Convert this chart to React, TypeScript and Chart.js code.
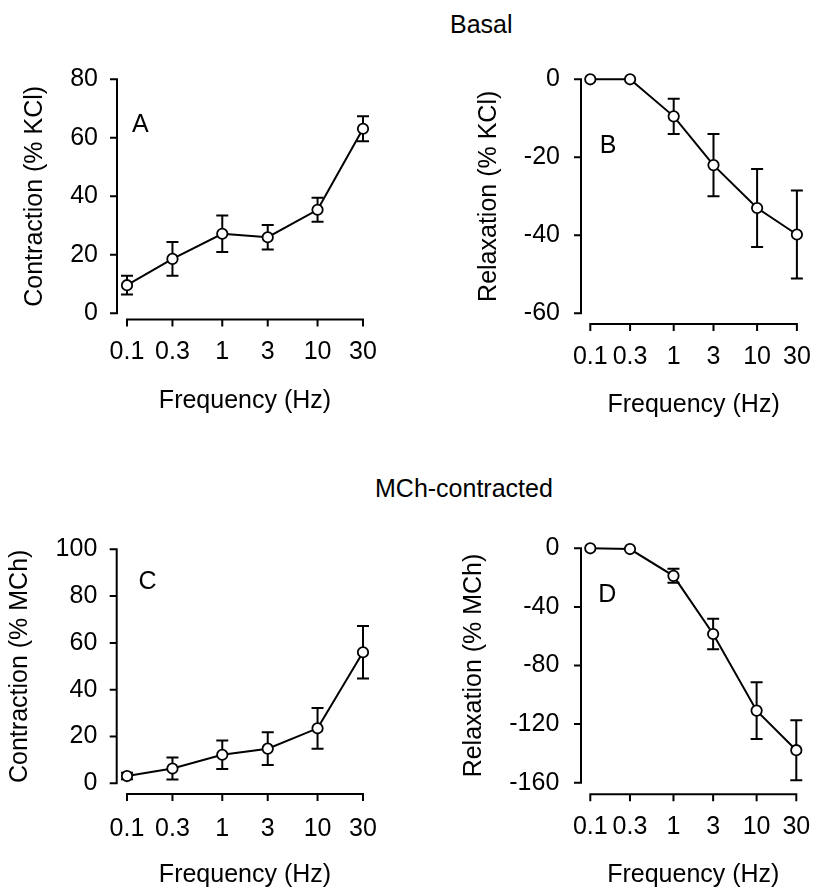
import React, { useEffect, useRef } from "react";
import { Chart, registerables } from "chart.js";

Chart.register(...registerables);

// ---------- data ----------
const FREQ_HZ = [0.1, 0.3, 1, 3, 10, 30];
const FREQ_LABELS = ["0.1", "0.3", "1", "3", "10", "30"];

const BASAL_CONTRACTION = [9.6, 18.6, 27.2, 26.0, 35.4, 63.1];
const BASAL_CONTRACTION_SEM = [3.2, 5.8, 6.2, 4.2, 4.1, 4.3];
const BASAL_RELAXATION = [0, 0, -9.5, -22.0, -33.0, -39.8];
const BASAL_RELAXATION_SEM = [0, 0, 4.5, 8.0, 10.0, 11.3];
const MCH_CONTRACTION = [3.1, 6.3, 12.2, 14.8, 23.5, 56.0];
const MCH_CONTRACTION_SEM = [1.4, 4.7, 6.1, 7.0, 8.7, 11.2];
const MCH_RELAXATION = [0, -0.5, -18.8, -58.5, -110.8, -137.8];
const MCH_RELAXATION_SEM = [0, 0, 4.8, 10.4, 19.4, 20.5];

const TICKS_A = [0, 20, 40, 60, 80];
const TICKS_B = [0, -20, -40, -60];
const TICKS_C = [0, 20, 40, 60, 80, 100];
const TICKS_D = [0, -40, -80, -120, -160];

const FONT_FAMILY = '"Liberation Sans", Arial, Helvetica, sans-serif';

// ---------- panel layout ----------
const PANELS = [
  {
    key: "A", letter: "A", letterDx: 5, letterDy: 52.4,
    means: BASAL_CONTRACTION, errs: BASAL_CONTRACTION_SEM, yTicks: TICKS_A,
    yMin: 0, yMax: 80, yTitle: "Contraction (% KCl)",
    left: 0, top: 30, w: 420, h: 390,
    padTop: 49.3, padRight: 57, yWidth: 127, xHeight: 106.7,
    yGap: 10, xGap: 6.3, xTickPad: 24.2, yTickPad: 29, yTitlePad: 20, xTitlePad: 4,
  },
  {
    key: "B", letter: "B", letterDx: 9.5, letterDy: 74,
    means: BASAL_RELAXATION, errs: BASAL_RELAXATION_SEM, yTicks: TICKS_B,
    yMin: -60, yMax: 0, yTitle: "Relaxation (% KCl)",
    left: 420, top: 30, w: 420, h: 390,
    padTop: 49.3, padRight: 16, yWidth: 170.3, xHeight: 106.7,
    yGap: 9.3, xGap: 10.7, xTickPad: 29.2, yTickPad: 30.3, yTitlePad: 54, xTitlePad: 0,
  },
  {
    key: "C", letter: "C", letterDx: 11.5, letterDy: 39.5,
    means: MCH_CONTRACTION, errs: MCH_CONTRACTION_SEM, yTicks: TICKS_C,
    yMin: 0, yMax: 100, yTitle: "Contraction (% MCh)",
    left: 0, top: 500, w: 420, h: 390,
    padTop: 49.3, padRight: 57, yWidth: 127, xHeight: 106.7,
    yGap: 10.3, xGap: 10.7, xTickPad: 30.7, yTickPad: 29.7, yTitlePad: 5.5, xTitlePad: 0,
  },
  {
    key: "D", letter: "D", letterDx: 8, letterDy: 53.4,
    means: MCH_RELAXATION, errs: MCH_RELAXATION_SEM, yTicks: TICKS_D,
    yMin: -160, yMax: 0, yTitle: "Relaxation (% MCh)",
    left: 420, top: 500, w: 420, h: 390,
    padTop: 48.3, padRight: 16, yWidth: 170.3, xHeight: 107.3,
    yGap: 9.3, xGap: 11.6, xTickPad: 29.8, yTickPad: 31, yTitlePad: 39, xTitlePad: 0,
  },
];

// ---------- plugin: detached axes, error bars, panel letter ----------
const sciPlugin = {
  id: "sci",
  beforeDatasetsDraw(chart: any, _args: any, opts: any) {
    const { ctx, chartArea } = chart;
    const xs = chart.scales.x;
    const ys = chart.scales.y;
    ctx.save();
    ctx.strokeStyle = "#000";
    ctx.fillStyle = "#000";
    ctx.lineWidth = 2;
    ctx.lineCap = "butt";

    // y axis
    const ax = chartArea.left - opts.yGap;
    const yTop = ys.getPixelForValue(opts.yMax);
    const yBot = ys.getPixelForValue(opts.yMin);
    ctx.beginPath();
    ctx.moveTo(ax, yTop - 1);
    ctx.lineTo(ax, yBot + 1);
    opts.yTicks.forEach((v: number) => {
      const py = ys.getPixelForValue(v);
      ctx.moveTo(ax - 7, py);
      ctx.lineTo(ax + 1, py);
    });
    ctx.stroke();

    // x axis
    const ay = chartArea.bottom + opts.xGap;
    const x0 = xs.getPixelForValue(opts.xTicks[0]);
    const x1 = xs.getPixelForValue(opts.xTicks[opts.xTicks.length - 1]);
    ctx.beginPath();
    ctx.moveTo(x0 - 1, ay);
    ctx.lineTo(x1 + 1, ay);
    opts.xTicks.forEach((v: number) => {
      const px = xs.getPixelForValue(v);
      ctx.moveTo(px, ay - 1);
      ctx.lineTo(px, ay + 7);
    });
    ctx.stroke();

    // error bars
    const data = chart.data.datasets[0].data;
    ctx.beginPath();
    data.forEach((p: any, i: number) => {
      const e = opts.errors[i];
      if (!e) return;
      const px = xs.getPixelForValue(p.x);
      const t = ys.getPixelForValue(p.y + e);
      const b = ys.getPixelForValue(p.y - e);
      ctx.moveTo(px, t);
      ctx.lineTo(px, b);
      ctx.moveTo(px - 6, t);
      ctx.lineTo(px + 6, t);
      ctx.moveTo(px - 6, b);
      ctx.lineTo(px + 6, b);
    });
    ctx.stroke();

    // panel letter
    ctx.font = `25px ${FONT_FAMILY}`;
    ctx.textAlign = "left";
    ctx.textBaseline = "alphabetic";
    ctx.fillText(opts.letter, chartArea.left + opts.letterDx, chartArea.top + opts.letterDy);
    ctx.restore();
  },
};

function Panel({ cfg }: { cfg: any }) {
  const ref = useRef<HTMLCanvasElement | null>(null);
  useEffect(() => {
    if (!ref.current) return;
    const font = { family: FONT_FAMILY, size: 25 };
    const chart = new Chart(ref.current, {
      type: "line",
      data: {
        datasets: [
          {
            data: FREQ_HZ.map((f, i) => ({ x: f, y: cfg.means[i] })),
            borderColor: "#000",
            borderWidth: 2,
            pointRadius: 5.2,
            pointBorderWidth: 1.8,
            pointBackgroundColor: "#fff",
            pointBorderColor: "#000",
            tension: 0,
            fill: false,
            clip: false,
          } as any,
        ],
      },
      options: {
        responsive: false,
        animation: false,
        devicePixelRatio: 1,
        events: [],
        layout: {
          autoPadding: false,
          padding: { left: 0, top: cfg.padTop, right: cfg.padRight, bottom: 0 },
        } as any,
        plugins: {
          legend: { display: false },
          tooltip: { enabled: false },
          sci: {
            yGap: cfg.yGap,
            xGap: cfg.xGap,
            yTicks: cfg.yTicks,
            yMin: cfg.yMin,
            yMax: cfg.yMax,
            xTicks: FREQ_HZ,
            errors: cfg.errs,
            letter: cfg.letter,
            letterDx: cfg.letterDx,
            letterDy: cfg.letterDy,
          },
        } as any,
        scales: {
          x: {
            type: "logarithmic",
            position: "bottom",
            min: 0.1,
            max: 30,
            grid: { display: false, drawTicks: false },
            border: { display: false },
            afterBuildTicks: (s: any) => {
              s.ticks = FREQ_HZ.map((v) => ({ value: v }));
            },
            afterFit: (s: any) => {
              s.height = cfg.xHeight;
            },
            ticks: {
              autoSkip: false,
              maxRotation: 0,
              minRotation: 0,
              padding: cfg.xTickPad,
              color: "#000",
              font,
              callback: (_v: any, i: number) => FREQ_LABELS[i],
            },
            title: {
              display: true,
              text: "Frequency (Hz)",
              color: "#000",
              font,
              padding: { top: 0, bottom: cfg.xTitlePad },
            },
          } as any,
          y: {
            type: "linear",
            min: cfg.yMin,
            max: cfg.yMax,
            grid: { display: false, drawTicks: false },
            border: { display: false },
            afterBuildTicks: (s: any) => {
              s.ticks = cfg.yTicks.map((v: number) => ({ value: v }));
            },
            afterFit: (s: any) => {
              s.width = cfg.yWidth;
            },
            ticks: {
              padding: cfg.yTickPad,
              color: "#000",
              font,
              callback: (v: any) => String(v),
            },
            title: {
              display: true,
              text: cfg.yTitle,
              color: "#000",
              font,
              padding: { top: cfg.yTitlePad, bottom: 0 },
            },
          } as any,
        },
      },
      plugins: [sciPlugin as any],
    });
    return () => chart.destroy();
  }, []);
  return (
    <canvas
      ref={ref}
      width={cfg.w}
      height={cfg.h}
      style={{ position: "absolute", left: cfg.left, top: cfg.top, width: cfg.w, height: cfg.h }}
    />
  );
}

const headStyle: React.CSSProperties = {
  position: "absolute",
  fontFamily: FONT_FAMILY,
  fontSize: 25,
  lineHeight: "25px",
  color: "#000",
  whiteSpace: "nowrap",
};

export default function App() {
  return (
    <div
      style={{
        position: "absolute",
        left: 0,
        top: 0,
        width: 840,
        height: 890,
        background: "#fff",
        overflow: "hidden",
      }}
    >
      <div style={{ ...headStyle, left: 450, top: 12 }}>Basal</div>
      <div style={{ ...headStyle, left: 375, top: 475.5 }}>MCh-contracted</div>
      {PANELS.map((p) => (
        <Panel key={p.key} cfg={p} />
      ))}
    </div>
  );
}
